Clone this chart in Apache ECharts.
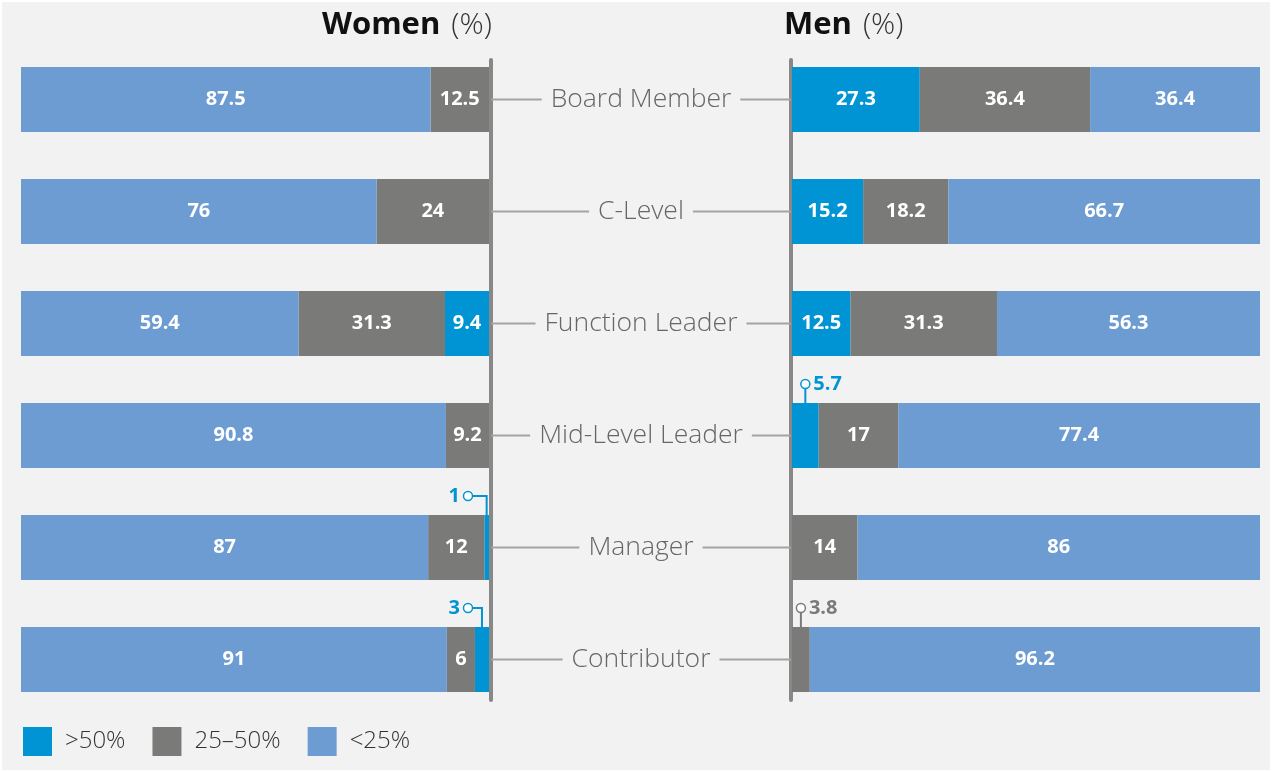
<!DOCTYPE html>
<html>
<head>
<meta charset="utf-8">
<script src="https://cdn.jsdelivr.net/npm/echarts@6/dist/echarts.min.js"></script>
<style>
html,body{margin:0;padding:0;background:#ffffff;}
#chart{position:absolute;left:2px;top:2px;width:1268px;height:768px;}
</style>
</head>
<body>
<div id="chart"></div>
<script>
const categories = ['Board Member', 'C-Level', 'Function Leader', 'Mid-Level Leader', 'Manager', 'Contributor'];
const legendNames = ['>50%', '25–50%', '<25%'];
const womenHigh = [0, 0, 9.4, 0, 1, 3];
const womenMid = [12.5, 24, 31.3, 9.2, 12, 6];
const womenLow = [87.5, 76, 59.4, 90.8, 87, 91];
const menHigh = [27.3, 15.2, 12.5, 5.7, 0, 0];
const menMid = [36.4, 18.2, 31.3, 17, 14, 3.8];
const menLow = [36.4, 66.7, 56.3, 77.4, 86, 96.2];

const colors = ['#0094d4', '#7a7b78', '#6d9cd2'];
const FONT = '"Open Sans", "Noto Sans", sans-serif';
const CALLOUT_MAX = 6;
const BAR_W = 65;

function calloutData(seriesList) {
  const out = [];
  for (let i = 0; i < categories.length; i++) {
    let base = 0;
    seriesList.forEach((arr, k) => {
      const v = arr[i];
      if (v > 0 && v < CALLOUT_MAX) out.push([base + v / 2, i, v, k]);
      base += v;
    });
  }
  return out;
}

function barSeries(name, data, k, gi) {
  return {
    type: 'bar', name: name, stack: 'side' + gi, xAxisIndex: gi, yAxisIndex: gi,
    data: data, barWidth: BAR_W, itemStyle: { color: colors[k] }, silent: true,
    label: {
      show: true, position: 'inside', color: '#ffffff', fontFamily: FONT,
      fontWeight: 'bold', fontSize: 20,
      formatter: p => (p.value >= CALLOUT_MAX ? String(p.value) : '')
    }
  };
}

function calloutSeries(data, gi, side) {
  return {
    type: 'custom', xAxisIndex: gi, yAxisIndex: gi, data: data, silent: true, z: 10,
    encode: { x: 0, y: 1 },
    renderItem: function (params, api) {
      const p = api.coord([api.value(0), api.value(1)]);
      const edge = api.coord([0, api.value(1)]);
      const k = api.value(3);
      const col = colors[k];
      const top = p[1] - BAR_W / 2;
      const rise = 19;
      let pts, cx, cy, tx, align;
      if (side === 'women') {
        cy = top - rise;
        cx = edge[0] - 21;
        pts = [[p[0], top], [p[0], cy], [cx + 4.5, cy]];
        tx = cx - 8; align = 'right';
      } else {
        cx = p[0];
        cy = top - rise;
        pts = [[p[0], top], [p[0], cy + 4.5]];
        tx = cx + 8; align = 'left';
      }
      return {
        type: 'group',
        children: [
          { type: 'polyline', shape: { points: pts }, style: { stroke: col, lineWidth: 2, fill: null } },
          { type: 'circle', shape: { cx: cx, cy: cy, r: 4.5 }, style: { stroke: col, lineWidth: 1.5, fill: '#ffffff' } },
          { type: 'text', x: tx, y: cy, style: { text: String(api.value(2)), fill: col, font: 'bold 20px ' + FONT, textAlign: align, textVerticalAlign: 'middle' } }
        ]
      };
    }
  };
}

const titleRich = {
  b: { fontFamily: FONT, fontSize: 31, fontWeight: 'bold', color: '#111111' },
  r: { fontFamily: FONT, fontSize: 30, fontWeight: 300, color: '#333333', padding: [0, 0, 0, 6] }
};

const chart = echarts.init(document.getElementById('chart'));
const hiddenCat = { type: 'category', data: categories, inverse: true, show: false };
const hiddenVal = { type: 'value', min: 0, max: 100, show: false };

chart.setOption({
  backgroundColor: '#f2f2f2',
  animation: false,
  title: [
    { left: 315, top: 3, text: '{b|Women} {r|(%)}', textStyle: { rich: titleRich } },
    { left: 777, top: 3, text: '{b|Men} {r|(%)}', textStyle: { rich: titleRich } }
  ],
  legend: {
    data: legendNames, left: 21, top: 725, padding: 0, itemWidth: 29, itemHeight: 29, itemGap: 27,
    icon: 'rect', selectedMode: false,
    textStyle: { fontFamily: FONT, fontSize: 24, fontWeight: 300, color: '#333333', padding: [0, 0, 0, 8] }
  },
  grid: [
    { left: 19, width: 468, top: 41.5, height: 672 },
    { left: 790, width: 468, top: 41.5, height: 672 },
    { left: 489, width: 300, top: 41.5, height: 672 },
    { left: 489, width: 300, top: 58, height: 640 }
  ],
  xAxis: [
    Object.assign({}, hiddenVal, { gridIndex: 0, inverse: true }),
    Object.assign({}, hiddenVal, { gridIndex: 1 }),
    { type: 'value', min: 0, max: 1, show: false, gridIndex: 2 },
    { type: 'value', min: 0, max: 1, show: false, gridIndex: 3 }
  ],
  yAxis: [
    Object.assign({}, hiddenCat, { gridIndex: 0 }),
    Object.assign({}, hiddenCat, { gridIndex: 1 }),
    Object.assign({}, hiddenCat, { gridIndex: 2 }),
    { type: 'value', gridIndex: 3, position: 'left', min: 0, max: 1,
      axisLine: { show: true, lineStyle: { color: '#888888', width: 4, cap: 'round' } },
      axisTick: { show: false }, axisLabel: { show: false }, splitLine: { show: false } },
    { type: 'value', gridIndex: 3, position: 'right', min: 0, max: 1,
      axisLine: { show: true, lineStyle: { color: '#888888', width: 4, cap: 'round' } },
      axisTick: { show: false }, axisLabel: { show: false }, splitLine: { show: false } }
  ],
  series: [
    barSeries(legendNames[0], womenHigh, 0, 0),
    barSeries(legendNames[1], womenMid, 1, 0),
    barSeries(legendNames[2], womenLow, 2, 0),
    barSeries(legendNames[0], menHigh, 0, 1),
    barSeries(legendNames[1], menMid, 1, 1),
    barSeries(legendNames[2], menLow, 2, 1),
    {
      type: 'bar', xAxisIndex: 2, yAxisIndex: 2, silent: true, barWidth: 2,
      data: categories.map(() => 1), itemStyle: { color: '#a3a3a3' },
      label: { show: true, position: 'inside', formatter: '{b}', fontFamily: FONT,
        fontSize: 26.5, fontWeight: 300, color: '#666666', backgroundColor: '#f2f2f2', padding: [0, 9] }
    },
    calloutSeries(calloutData([womenHigh, womenMid, womenLow]), 0, 'women'),
    calloutSeries(calloutData([menHigh, menMid, menLow]), 1, 'men')
  ]
});
</script>
</body>
</html>
